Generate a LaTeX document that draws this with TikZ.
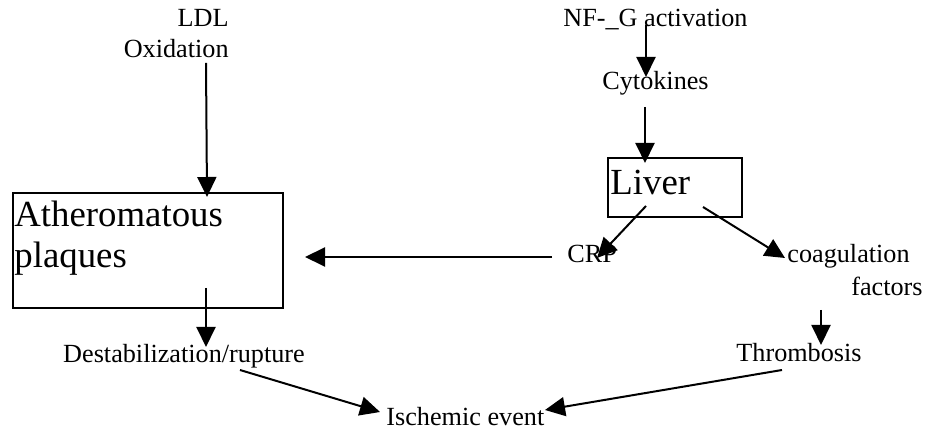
\documentclass[tikz,border=0pt]{standalone}
\usepackage{fontspec}
\setmainfont{Liberation Serif}
\usetikzlibrary{arrows.meta}
\begin{document}
\begin{tikzpicture}[x=0.5pt, y=-0.5pt,
    txt/.style={inner sep=0pt, font=\fontsize{13.1}{15.5}\selectfont},
    big/.style={inner sep=0pt, font=\fontsize{18.4}{20.5}\selectfont},
    box/.style={draw, line width=1pt, inner sep=0pt},
    arr/.style={line width=1pt, -{Triangle[length=10pt,width=9.5pt]}}]
    \useasboundingbox (0,0) rectangle (925,431);

    \node [txt, align=right, anchor=base east] (ldl) at (229,58) {LDL\\Oxidation};
    \node [txt, anchor=base west] (nfkb) at (563,27) {NF-\_G activation};
    \node [txt, anchor=base west] (cyto) at (602,90) {Cytokines};
    \node [box, minimum width=67pt, minimum height=29.5pt] (liverbox) at (675,187.5) {};
    \node [big, anchor=base west] (liver) at (610,195) {Liver};
    \node [box, minimum width=135pt, minimum height=57.5pt] (plaqbox) at (148,250.5) {};
    \node [big, align=left, anchor=base west] (plaq) at (14,268) {Atheromatous\\plaques};
    \node [txt, anchor=base west] (crp) at (567,263) {CRP};
    \node [txt, anchor=base west] (coag) at (787,263) {coagulation};
    \node [txt, anchor=base east] (factors) at (923,296) {factors};
    \node [txt, anchor=base] (destab) at (184,363) {Destabilization/rupture};
    \node [txt, anchor=base east] (thromb) at (862,362) {Thrombosis};
    \node [txt, anchor=base west] (isch) at (386,426) {Ischemic event};

    \coordinate (ldlout) at (206,63);
    \coordinate (plaqin) at (207,197);
    \coordinate (nfout) at (646,25);
    \coordinate (cytoin) at (646,77);
    \coordinate (cytoout) at (645,107);
    \coordinate (liverin) at (645,163);
    \coordinate (liverl) at (646,206);
    \coordinate (liverr) at (703,207);
    \coordinate (crpin) at (597,258);
    \coordinate (coagin) at (785,258);
    \coordinate (crpout) at (552,257);
    \coordinate (plaqr) at (305,257);
    \coordinate (plaqout) at (206,288);
    \coordinate (destabin) at (206,347);
    \coordinate (factout) at (821,310);
    \coordinate (thrombin) at (821,345);
    \coordinate (destabout) at (240,370);
    \coordinate (ischl) at (380,412);
    \coordinate (thrombout) at (782,370);
    \coordinate (ischr) at (545,410);

    \draw [arr] (ldlout) -- (plaqin);
    \draw [arr] (nfout) -- (cytoin);
    \draw [arr] (cytoout) -- (liverin);
    \draw [arr] (liverl) -- (crpin);
    \draw [arr] (liverr) -- (coagin);
    \draw [arr] (crpout) -- (plaqr);
    \draw [arr] (plaqout) -- (destabin);
    \draw [arr] (factout) -- (thrombin);
    \draw [arr] (destabout) -- (ischl);
    \draw [arr] (thrombout) -- (ischr);
\end{tikzpicture}
\end{document}
